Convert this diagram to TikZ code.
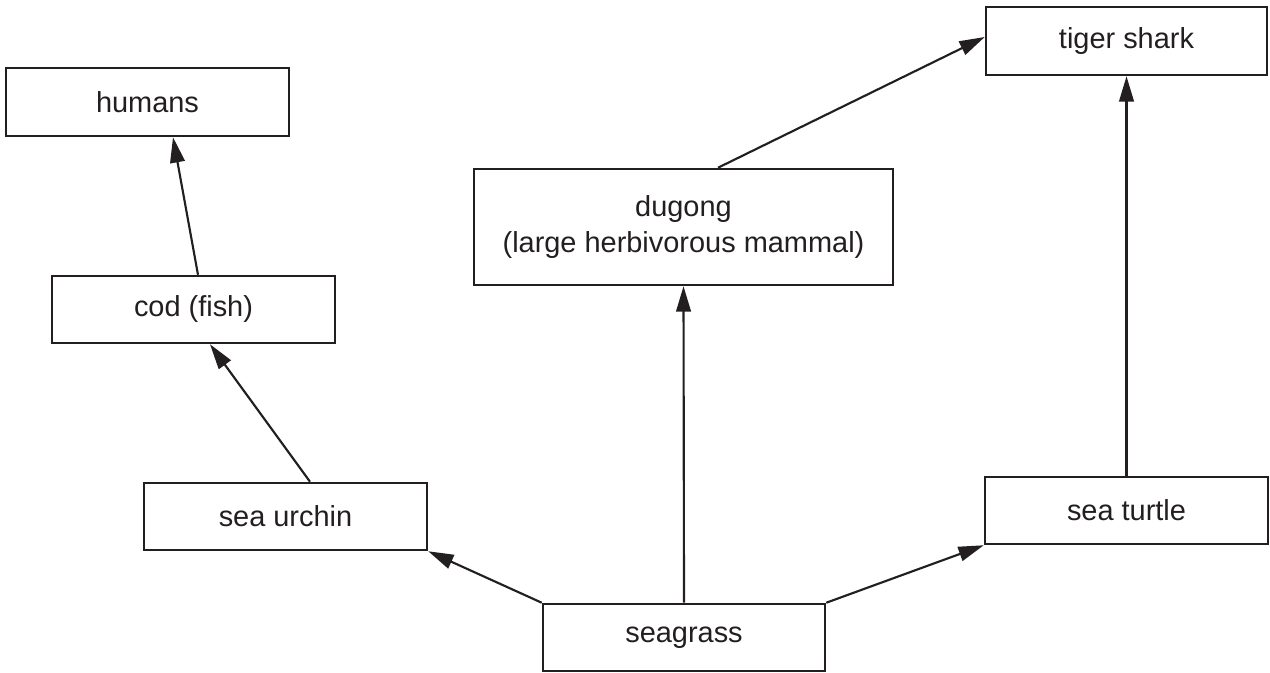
\documentclass[tikz,border=0pt]{standalone}
\usepackage{fontspec}
\setmainfont{Liberation Sans}
\usetikzlibrary{arrows.meta,calc}
\definecolor{ink}{HTML}{231F20}
\begin{document}
\begin{tikzpicture}[x=0.75pt,y=-0.75pt,
  box/.style={draw=ink,line width=1.9pt,fill=white,inner sep=0pt,align=center,
    text=ink,font=\fontsize{21.7}{26.5}\selectfont,minimum height=50.25pt,minimum width=212.25pt},
  link/.style={draw=ink,line width=1.6pt,-{Triangle[length=19pt,width=11pt]}}]
\useasboundingbox (0,0) rectangle (1270,673);
\node[box,minimum height=51pt] (humans) at (147.5,102) {humans};
\node[box] (cod) at (193.5,309.5) {cod (fish)};
\node[box] (urchin) at (285.5,516.5) {sea urchin};
\node[box,minimum width=211.5pt] (seagrass) at (684,637.5) {seagrass};
\node[box,minimum width=314.25pt,minimum height=87pt] (dugong) at (683.5,227) {dugong\\(large herbivorous mammal)};
\node[box,minimum width=210.75pt,minimum height=51pt] (tiger) at (1126.5,41) {tiger shark};
\node[box] (turtle) at (1126.5,510.5) {sea turtle};
\draw[link] (seagrass.north west) -- (urchin.south east);
\draw[link] (seagrass.north east) -- (turtle.south west);
\draw[link] (seagrass.north) -- (dugong.south);
\draw[link] ($(urchin.north)+(24.5,0)$) -- ($(cod.south)+(16.5,0)$);
\draw[link] ($(cod.north)+(4.5,0)$) -- ($(humans.south)+(25.5,0)$);
\draw[link] ($(dugong.north)+(34.5,0)$) -- ($(tiger.west)+(0,-4)$);
\draw[link] (turtle.north) -- (tiger.south);
\end{tikzpicture}
\end{document}
